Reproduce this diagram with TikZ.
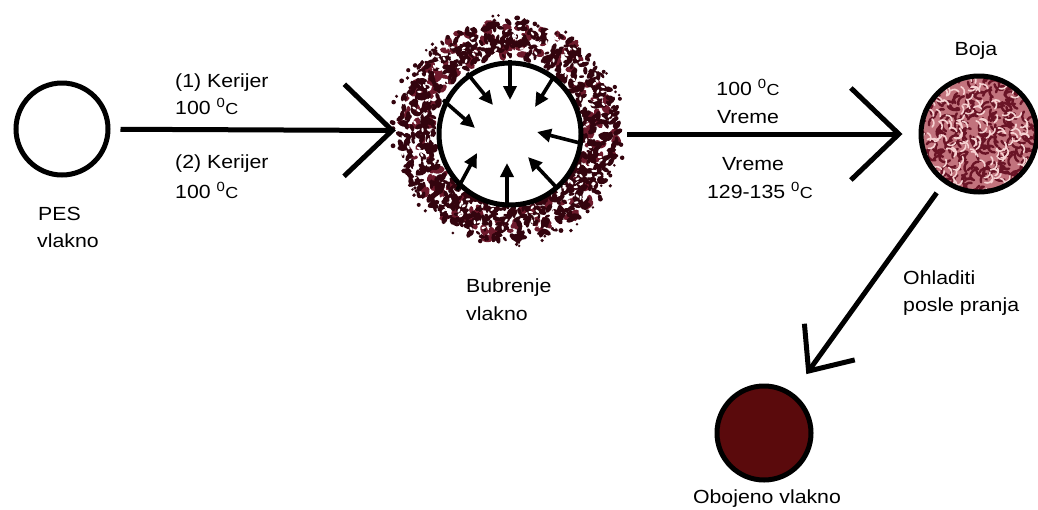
\documentclass[tikz,border=0pt]{standalone}
\usepackage{fontspec}
\setmainfont[FakeStretch=1.12]{Liberation Sans}
\usetikzlibrary{arrows.meta,calc}

\definecolor{spkdark}{HTML}{33040E}
\definecolor{spkred}{HTML}{6E1A2C}
\definecolor{bojabase}{HTML}{C2737D}
\definecolor{bojadark}{HTML}{6A1426}
\definecolor{bojalight}{HTML}{F6D2D2}
\definecolor{dyed}{HTML}{5A0A0C}

% superscript zero followed by a small C
\newcommand\degc{\textsuperscript{0}{\fontsize{16}{16}\selectfont C}}

\begin{document}
\begin{tikzpicture}[x=1pt,y=-1pt,
  ring/.style={circle, draw=black, line width=5pt, inner sep=0pt},
  flow/.style={line width=5pt, -{Straight Barb[length=48pt,width=92pt]}},
  smallflow/.style={line width=5pt, -{Straight Barb[length=36pt,width=62pt]}},
  lbl/.style={font=\fontsize{19}{26}\selectfont, inner sep=0pt},
  inarrow/.style={line width=3.6pt, -{Triangle[length=14pt,width=13pt]}},
]
\useasboundingbox (0,0) rectangle (1038,509);
\fill[white] (0,0) rectangle (1038,509);

% plain fibre
\node[ring, minimum size=92pt] (pes) at (62,129) {};

% swelling fibre: speckled outer zone
\node[circle, minimum size=224pt, inner sep=0pt] (bub) at (508,131) {};
\pgfmathsetseed{11}
\begin{scope}[shift={(bub)}]
  \foreach \i in {1,...,220}{
    \pgfmathsetmacro\ang{360*rnd}
    \pgfmathsetmacro\rad{76+34*rnd}
    \pgfmathsetmacro\sz{2+1.8*rnd}
    \pgfmathsetmacro\rot{180*rnd}
    \fill[spkred, shift={(\ang:\rad)}, rotate=\rot] (0,0) ellipse [x radius=1.7*\sz pt, y radius=\sz pt];
  }
  \foreach \i in {1,...,850}{
    \pgfmathsetmacro\ang{360*rnd}
    \pgfmathsetmacro\rad{74+36*rnd}
    \pgfmathsetmacro\sz{1.3+1.6*rnd}
    \pgfmathsetmacro\rot{180*rnd}
    \fill[spkdark, shift={(\ang:\rad)}, rotate=\rot] (0,0) ellipse [x radius=1.9*\sz pt, y radius=\sz pt];
  }
  \foreach \i in {1,...,70}{
    \pgfmathsetmacro\ang{360*rnd}
    \pgfmathsetmacro\rad{108+10*rnd}
    \pgfmathsetmacro\sz{1.3+1.2*rnd}
    \fill[spkdark, shift={(\ang:\rad)}] (0,0) circle [radius=\sz pt];
  }
  % light flecks between the speckles
  \foreach \i in {1,...,160}{
    \pgfmathsetmacro\ang{360*rnd}
    \pgfmathsetmacro\rad{78+30*rnd}
    \pgfmathsetmacro\rot{180*rnd}
    \fill[white, shift={(\ang:\rad)}, rotate=\rot] (0,0) ellipse [x radius=2.2pt, y radius=1.1pt];
  }
\end{scope}
\node[ring, fill=white, minimum size=142pt] (bubin) at (510,134) {};
\foreach \sx/\sy/\ex/\ey in {0/-74/0/-34, 43/-56/25/-27, -43/-61/-17/-29,
    -67/-34/-35/-6, 70/9/27/-2, 47/54/18/23, -3/73/-3/29, -53/56/-33/19}
  \draw[inarrow] ($(bubin)+(\sx,\sy)$) -- ($(bubin)+(\ex,\ey)$);

% dye particle with its texture
\coordinate (bojac) at (979,134);
\begin{scope}[shift={(bojac)}]
  \clip (0,0) circle [radius=58pt];
  \fill[bojabase] (0,0) circle [radius=58pt];
  \foreach \i in {1,...,220}{
    \pgfmathsetmacro\ang{360*rnd}
    \pgfmathsetmacro\rad{60*sqrt(rnd)}
    \pgfmathsetmacro\rot{180*rnd}
    \draw[bojadark, line width=2.4pt, line cap=round, shift={(\ang:\rad)}, rotate=\rot]
      (-5,0) to[bend left=50] (5,0);
  }
  \foreach \i in {1,...,130}{
    \pgfmathsetmacro\ang{360*rnd}
    \pgfmathsetmacro\rad{60*sqrt(rnd)}
    \pgfmathsetmacro\rot{180*rnd}
    \draw[bojalight, line width=1.6pt, line cap=round, shift={(\ang:\rad)}, rotate=\rot]
      (-4,0) to[bend right=50] (4,0);
  }
\end{scope}
\node[ring, minimum size=116pt] (boja) at (bojac) {};

% dyed fibre
\node[ring, fill=dyed, minimum size=94pt] (obo) at (764,433) {};

% process arrows
\draw[flow, shorten <=10pt] (pes) -- (bub);
\draw[flow, shorten <=7pt, shorten >=16pt] (bub.east |- boja) -- (boja);
\draw[smallflow, shorten <=12pt, shorten >=23pt] (boja) -- (obo);

% labels
\node[lbl, anchor=base west] (k1) at (175,87) {(1) Kerijer};
\node[lbl, anchor=base west] (t1) at (175,114) {100 \degc};
\node[lbl, anchor=base west] (k2) at (175,168) {(2) Kerijer};
\node[lbl, anchor=base west] (t2) at (175,198) {100 \degc};
\node[lbl, anchor=base west] (p1) at (38,220) {PES};
\node[lbl, anchor=base west] (p2) at (37,247) {vlakno};
\node[lbl, anchor=base west] (b1) at (466,292) {Bubrenje};
\node[lbl, anchor=base west] (b2) at (466,320) {vlakno};
\node[lbl, anchor=base] (r1) at (748,95) {100 \degc};
\node[lbl, anchor=base] (r2) at (748,123) {Vreme};
\node[lbl, anchor=base] (r3) at (753,170) {Vreme};
\node[lbl, anchor=base] (r4) at (760,198) {129-135 \degc};
\node[lbl, anchor=base] (bj) at (976,55) {Boja};
\node[lbl, anchor=base west] (o1) at (903,284) {Ohladiti};
\node[lbl, anchor=base west] (o2) at (903,311) {posle pranja};
\node[lbl, anchor=base] (ov) at (767,503) {Obojeno vlakno};
\end{tikzpicture}
\end{document}
